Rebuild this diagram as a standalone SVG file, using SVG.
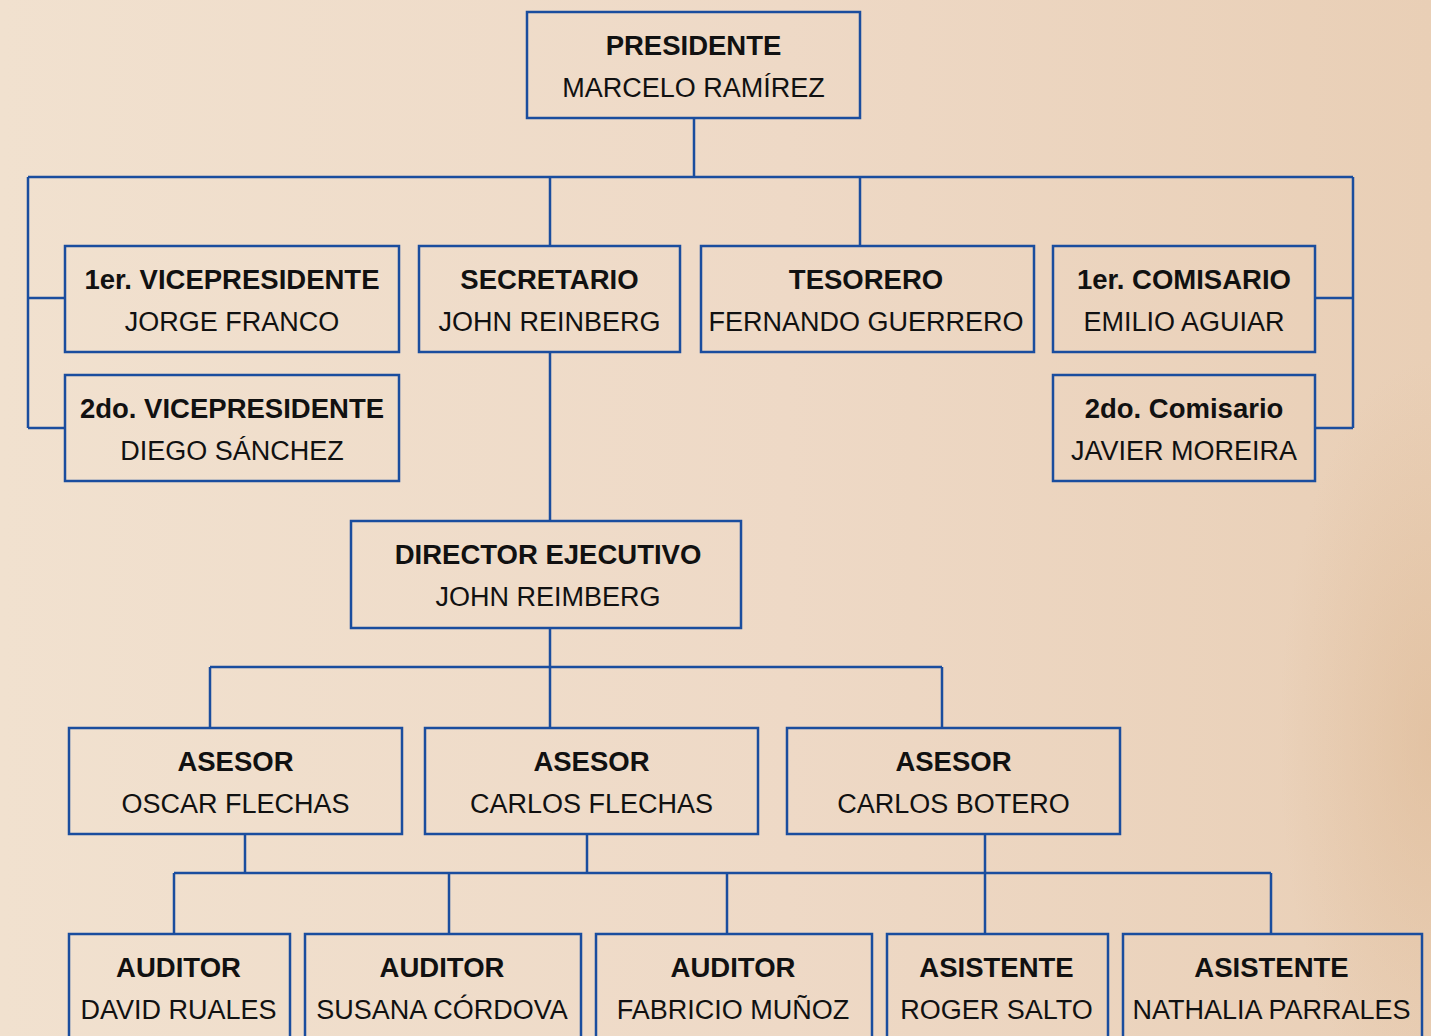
<svg xmlns="http://www.w3.org/2000/svg" width="1431" height="1036" viewBox="0 0 1431 1036">
<defs>
<linearGradient id="bg" x1="0" y1="0" x2="1" y2="0">
<stop offset="0" stop-color="#f1e1cf"/>
<stop offset="0.55" stop-color="#eed9c6"/>
<stop offset="1" stop-color="#e9cfb6"/>
</linearGradient>
<radialGradient id="shade" cx="1431" cy="740" r="380" gradientUnits="userSpaceOnUse" gradientTransform="translate(1431 740) scale(0.4 1) translate(-1431 -740)">
<stop offset="0" stop-color="#dcb690" stop-opacity="0.5"/>
<stop offset="1" stop-color="#dcb690" stop-opacity="0"/>
</radialGradient>
<style>
.box{fill:none;stroke:#1a4d9e;stroke-width:2.5}
.con{fill:none;stroke:#1a4d9e;stroke-width:2.5}
.t{font-family:"Liberation Sans",Arial,sans-serif;font-size:27.5px;font-weight:bold;fill:#111;text-anchor:middle}
.n{font-family:"Liberation Sans",Arial,sans-serif;font-size:27px;fill:#111;text-anchor:middle}
</style>
</defs>
<rect x="0" y="0" width="1431" height="1036" fill="url(#bg)"/>
<rect x="0" y="0" width="1431" height="1036" fill="url(#shade)"/>
<g id="connectors">
<path class="con" d="M694 118V177M28 177H1353M28 177V428M28 298H65M28 428H65M1353 177V428M1315 298H1353M1315 428H1353M550 177V246M860 177V246M550 352V521M550 628V667M210 667H942M210 667V728M550 667V728M942 667V728M245 834V873M587 834V873M985 834V873M174 873H1271M174 873V934M449 873V934M727 873V934M985 873V934M1271 873V934"/>
</g>
<g id="presidente"><rect class="box" x="527" y="12" width="333" height="106"/><text class="t" x="693.5" y="55">PRESIDENTE</text><text class="n" x="693.5" y="97">MARCELO RAMÍREZ</text></g>
<g id="vp1"><rect class="box" x="65" y="246" width="334" height="106"/><text class="t" x="232" y="289">1er. VICEPRESIDENTE</text><text class="n" x="232" y="331">JORGE FRANCO</text></g>
<g id="vp2"><rect class="box" x="65" y="375" width="334" height="106"/><text class="t" x="232" y="418">2do. VICEPRESIDENTE</text><text class="n" x="232" y="460">DIEGO SÁNCHEZ</text></g>
<g id="secretario"><rect class="box" x="419" y="246" width="261" height="106"/><text class="t" x="549.5" y="289">SECRETARIO</text><text class="n" x="549.5" y="331">JOHN REINBERG</text></g>
<g id="tesorero"><rect class="box" x="701" y="246" width="333" height="106"/><text class="t" x="866" y="289">TESORERO</text><text class="n" x="866" y="331">FERNANDO GUERRERO</text></g>
<g id="comisario1"><rect class="box" x="1053" y="246" width="262" height="106"/><text class="t" x="1184" y="289">1er. COMISARIO</text><text class="n" x="1184" y="331">EMILIO AGUIAR</text></g>
<g id="comisario2"><rect class="box" x="1053" y="375" width="262" height="106"/><text class="t" x="1184" y="418">2do. Comisario</text><text class="n" x="1184" y="460">JAVIER MOREIRA</text></g>
<g id="director"><rect class="box" x="351" y="521" width="390" height="107"/><text class="t" x="548" y="564">DIRECTOR EJECUTIVO</text><text class="n" x="548" y="606">JOHN REIMBERG</text></g>
<g id="asesor1"><rect class="box" x="69" y="728" width="333" height="106"/><text class="t" x="235.5" y="771">ASESOR</text><text class="n" x="235.5" y="813">OSCAR FLECHAS</text></g>
<g id="asesor2"><rect class="box" x="425" y="728" width="333" height="106"/><text class="t" x="591.5" y="771">ASESOR</text><text class="n" x="591.5" y="813">CARLOS FLECHAS</text></g>
<g id="asesor3"><rect class="box" x="787" y="728" width="333" height="106"/><text class="t" x="953.5" y="771">ASESOR</text><text class="n" x="953.5" y="813">CARLOS BOTERO</text></g>
<g id="auditor1"><rect class="box" x="69" y="934" width="221" height="110"/><text class="t" x="178.5" y="977">AUDITOR</text><text class="n" x="178.5" y="1019">DAVID RUALES</text></g>
<g id="auditor2"><rect class="box" x="305" y="934" width="276" height="110"/><text class="t" x="442" y="977">AUDITOR</text><text class="n" x="442" y="1019">SUSANA CÓRDOVA</text></g>
<g id="auditor3"><rect class="box" x="596" y="934" width="276" height="110"/><text class="t" x="733" y="977">AUDITOR</text><text class="n" x="733" y="1019">FABRICIO MUÑOZ</text></g>
<g id="asistente1"><rect class="box" x="887" y="934" width="221" height="110"/><text class="t" x="996.5" y="977">ASISTENTE</text><text class="n" x="996.5" y="1019">ROGER SALTO</text></g>
<g id="asistente2"><rect class="box" x="1123" y="934" width="299" height="110"/><text class="t" x="1271.5" y="977">ASISTENTE</text><text class="n" x="1271.5" y="1019">NATHALIA PARRALES</text></g>
</svg>
